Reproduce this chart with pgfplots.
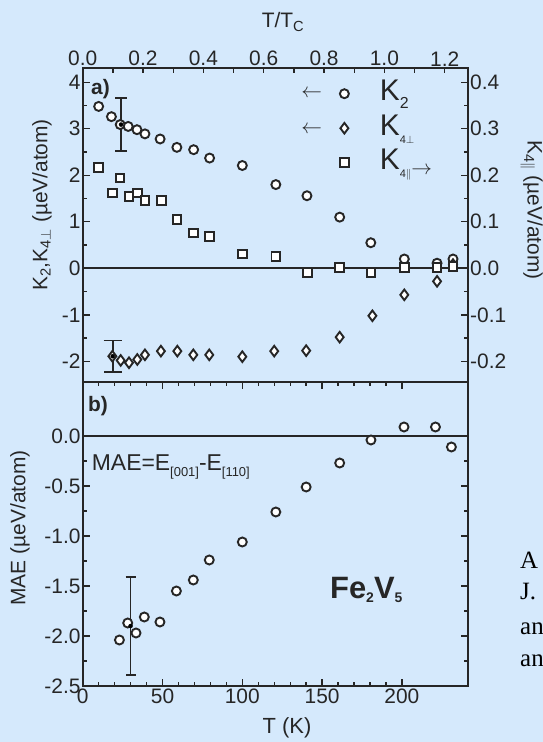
\documentclass[border=0pt]{standalone}
\usepackage{fontspec}
\setmainfont{Liberation Sans}
\newfontfamily\seriffont{Liberation Serif}
\usepackage{pgfplots}
\pgfplotsset{compat=1.18}
\definecolor{bg}{RGB}{213,233,252}
\definecolor{fg}{RGB}{38,38,38}
\newcommand{\fs}[1]{\fontsize{#1}{#1}\selectfont}

\pgfplotsset{
  base/.style={scale only axis, width=385.3bp, xmin=0, xmax=241.4,
    axis line style={fg, line width=2bp},
    tick style={fg, line width=1.4bp},
    major tick length=7bp, minor tick length=4bp,
    tick align=inside,
    tick label style={font=\fs{21}, text=fg},
    /pgf/number format/assume math mode=true,
  },
  mk/.style={only marks, forget plot, mark options={fill=white, draw=fg, line width=1.9bp}},
  eb/.style={only marks, mark=none, forget plot,
    error bars/.cd, y dir=both, y explicit,
    error bar style={fg, line width=1.6bp},
    error mark options={rotate=90, mark size=#1, line width=1.6bp, fg}},
}

\begin{document}
\begin{tikzpicture}[x=1bp,y=1bp]
\fill[bg] (0,0) rectangle (543,742);
\path[use as bounding box] (0,0) rectangle (543,742);

% ---------- panel a, left axis ----------
\begin{axis}[base, at={(82.7bp,359.7bp)}, anchor=south west, height=314bp,
  ymin=-2.45, ymax=4.3, xtick=\empty, ytick={-2,-1,0,1,2,3,4}, minor y tick num=1,
  ytick pos=left, yticklabel style={inner sep=2bp},
  legend style={at={(axis cs:161,4.08)}, anchor=north west, draw=none, fill=none,
    font=\fs{30}, text=fg, row sep=4.5bp, inner sep=0pt,
    nodes={inner sep=0pt, text height=22bp, text depth=8bp},
    /tikz/every odd column/.append style={column sep=31bp}},
  legend cell align=left]
\addplot[fg, line width=1.8bp, forget plot] coordinates {(0,0) (241.4,0)};
% K2
\addplot[mk, mark=*, mark size=4.5bp] coordinates {
 (10,3.48) (18,3.26) (23.5,3.09) (28.5,3.05) (34,2.98) (39,2.89) (48.5,2.78)
 (59,2.60) (69.5,2.55) (79.5,2.37) (100,2.21) (121,1.80) (140.5,1.56) (161,1.10)
 (180.5,0.55) (201.5,0.20) (222,0.11) (232,0.20)};
% K4 perp
\addplot[mk, mark=diamond*, mark size=5.3bp] coordinates {
 (18.6,-1.89) (23.8,-1.98) (29,-2.03) (34.2,-1.96) (39,-1.86) (49,-1.78) (59.3,-1.78)
 (69.3,-1.86) (79.3,-1.86) (100,-1.90) (120,-1.78) (140,-1.77) (161,-1.48)
 (181.5,-1.02) (201.5,-0.57) (222,-0.28) (232,0.08)};
% error bars
\addplot[eb=6bp] coordinates {(24,3.09) +- (0,0.57)};
\addplot[eb=9bp] coordinates {(18.8,-1.89) +- (0,0.34)};
% legend
\addlegendimage{only marks, mark=*, mark size=4.5bp, mark options={fill=white, draw=fg, line width=1.9bp}}
\addlegendentry{K\raisebox{-8bp}{\fs{16}2}}
\addlegendimage{only marks, mark=diamond*, mark size=5.3bp, mark options={fill=white, draw=fg, line width=1.9bp}}
\addlegendentry{K\raisebox{-8bp}{\fs{11}4$\perp$}}
\addlegendimage{only marks, mark=square*, mark size=4.3bp, mark options={fill=white, draw=fg, line width=1.9bp}}
\addlegendentry{K\raisebox{-8bp}{\fs{11}4$\parallel$}\raisebox{-5bp}{\fs{20}$\rightarrow$}}
\end{axis}

% ---------- panel a, right axis ----------
\begin{axis}[base, at={(82.7bp,359.7bp)}, anchor=south west, height=314bp,
  ymin=-0.245, ymax=0.43, axis x line=none, axis y line*=right,
  ytick={-0.2,-0.1,0,0.1,0.2,0.3,0.4}, minor y tick num=1,
  yticklabel style={inner sep=2bp, /pgf/number format/.cd, fixed, fixed zerofill, precision=1}]
\addplot[mk, mark=square*, mark size=4.3bp] coordinates {
 (10,0.217) (18.6,0.162) (23.4,0.194) (29,0.154) (34.2,0.162) (39,0.146) (49.5,0.146)
 (59,0.105) (69.3,0.076) (79.3,0.068) (100,0.031) (121,0.025) (140.7,-0.009)
 (161,0.002) (180.6,-0.009) (201.5,0.002) (222,0.002) (232,0.004)};
\end{axis}

% ---------- panel a, top axis T/Tc ----------
\begin{axis}[base, at={(82.7bp,359.7bp)}, anchor=south west, height=314bp,
  xmin=0, xmax=1.2772, ymin=0, ymax=1, axis y line=none, axis x line*=top,
  xtick={0,0.2,0.4,0.6,0.8,1.0,1.2}, minor x tick num=1,
  major tick length=5bp, minor tick length=5bp,
  xticklabel style={inner sep=2bp, /pgf/number format/.cd, fixed, fixed zerofill, precision=1}]
\end{axis}

% ---------- panel b ----------
\begin{axis}[base, at={(82.7bp,56bp)}, anchor=south west, height=303.7bp,
  ymin=-2.5, ymax=0.537, xtick={0,50,100,150,200}, minor x tick num=4,
  ytick={-2.5,-2,-1.5,-1,-0.5,0}, minor y tick num=1,
  xtick pos=both, ytick pos=both, xticklabel pos=lower, yticklabel pos=left,
  yticklabel style={inner sep=2bp, /pgf/number format/.cd, fixed, fixed zerofill, precision=1},
  xticklabel style={inner sep=3bp}]
\addplot[fg, line width=1.8bp, forget plot] coordinates {(0,0) (241.4,0)};
\addplot[mk, mark=*, mark size=4.5bp] coordinates {
 (23,-2.04) (28.2,-1.87) (33.4,-1.97) (38.6,-1.81) (48.4,-1.86) (58.7,-1.55)
 (69.3,-1.44) (79.3,-1.24) (100,-1.06) (121,-0.76) (140,-0.51) (161,-0.27)
 (180.6,-0.04) (201.3,0.09) (221,0.09) (231,-0.11)};
\addplot[eb=5bp] coordinates {(30,-1.9) +- (0,0.49)};
\end{axis}

% ---------- texts ----------
\node[text=fg, font=\fs{20}] at (311.7,648.7) {$\leftarrow$};
\node[text=fg, font=\fs{20}] at (311.7,612.7) {$\leftarrow$};
\node[anchor=base west, text=fg, font=\fs{21}, inner sep=0pt] at (91,647) {\bfseries a)};
\node[anchor=base west, text=fg, font=\fs{21}, inner sep=0pt] at (88,330) {\bfseries b)};
\node[anchor=base west, text=fg, font=\fs{23}, inner sep=0pt] at (91.7,271.3)
  {MAE=E\raisebox{-6bp}{\fs{13}[001]}-E\raisebox{-6bp}{\fs{13}[110]}};
\node[anchor=base west, text=fg, font=\bfseries\fs{31}, inner sep=0pt] at (330,143)
  {Fe\raisebox{-3.5bp}{\fs{14}2}V\raisebox{-3.5bp}{\fs{14}5}};
\node[rotate=90, text=fg, font=\fs{21}] at (42,537) {K\textsubscript{2},K\textsubscript{4$\perp$} (µeV/atom)};
\node[rotate=90, text=fg, font=\fs{21}] at (20,214) {MAE (µeV/atom)};
\node[rotate=-90, text=fg, font=\fs{21}] at (531.7,532) {K\textsubscript{4$\parallel$} (µeV/atom)};
\node[text=fg, font=\fs{21}] at (283,720) {T/T\textsubscript{C}};
\node[text=fg, font=\fs{22}] at (287,14) {T (K)};
\node[anchor=base west, font=\seriffont\fs{25}, inner sep=0pt] at (520,173.7) {A};
\node[anchor=base west, font=\seriffont\fs{25}, inner sep=0pt] at (520,142) {J.};
\node[anchor=base west, font=\seriffont\fs{25}, inner sep=0pt] at (520,107) {an};
\node[anchor=base west, font=\seriffont\fs{25}, inner sep=0pt] at (520,75.3) {an};
\end{tikzpicture}
\end{document}
